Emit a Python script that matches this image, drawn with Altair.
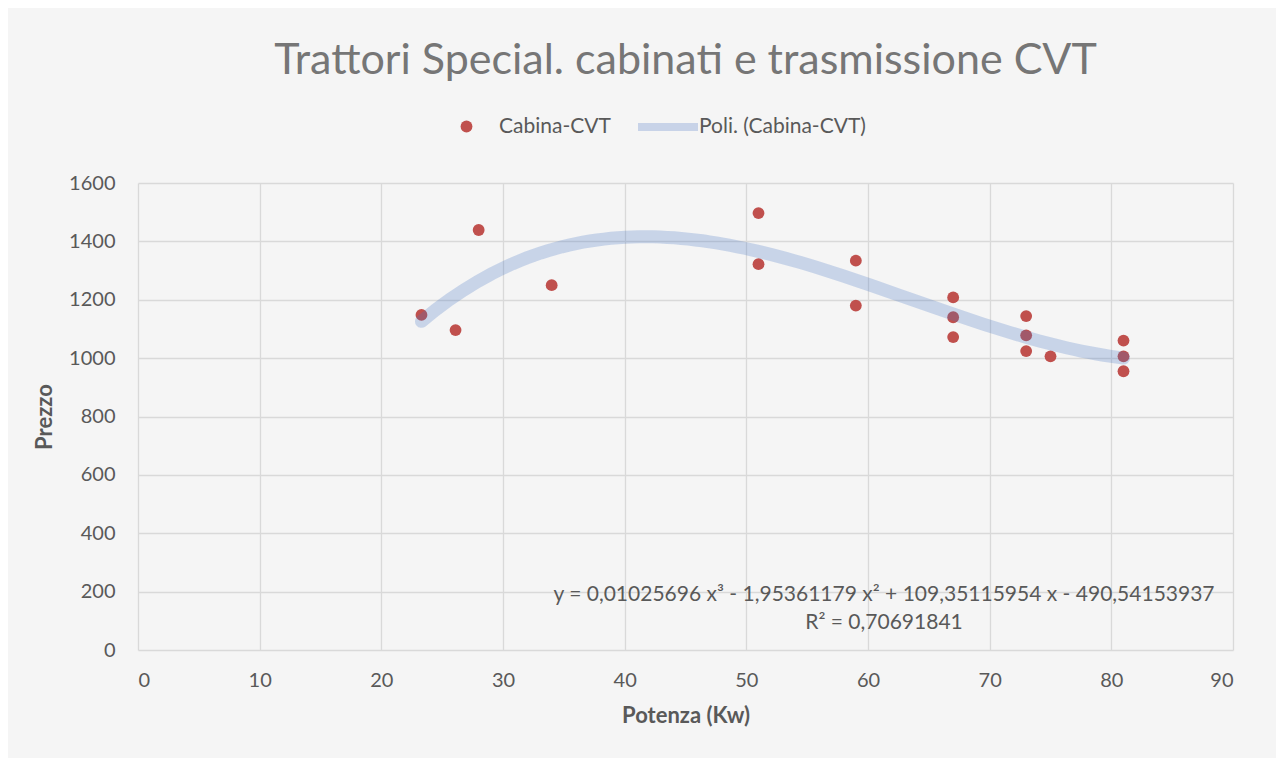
import altair as alt
import pandas as pd

# Data
potenza = [23.3, 26.1, 28.0, 34.0, 51.0, 51.0, 59.0, 59.0, 67.0, 67.0, 67.0,
           73.0, 73.0, 73.0, 75.0, 81.0, 81.0, 81.0]
prezzo = [1148, 1096, 1439, 1250, 1497, 1322, 1334, 1180, 1208, 1140, 1072,
          1144, 1078, 1024, 1006, 1060, 1006, 955]

series_points = "Cabina-CVT"
series_trend = "Poli. (Cabina-CVT)"
equation = "y = 0,01025696 x³ - 1,95361179 x² + 109,35115954 x - 490,54153937"
r_squared = "R² = 0,70691841"
title_text = "Trattori Special. cabinati e trasmissione CVT"

x_ticks = [0, 10, 20, 30, 40, 50, 60, 70, 80, 90]
y_ticks = [0, 200, 400, 600, 800, 1000, 1200, 1400, 1600]

df = pd.DataFrame({"x": potenza, "y": prezzo})

FONT = "Lato"
GRAY = "#595959"

x_enc = alt.X("x:Q", scale=alt.Scale(domain=[0, 90], nice=False),
              axis=alt.Axis(values=x_ticks, format="d", title="Potenza (Kw)",
                            titlePadding=15, labelPadding=20))
y_enc = alt.Y("y:Q", scale=alt.Scale(domain=[0, 1600], nice=False),
              axis=alt.Axis(values=y_ticks, format="d", title="Prezzo",
                            titlePadding=12, labelPadding=23))

points = alt.Chart(df).transform_calculate(
    series=f"'{series_points}'"
).mark_point(filled=True, size=140, opacity=1, shape="circle").encode(
    x=x_enc,
    y=y_enc,
    fill=alt.Fill("series:N", scale=alt.Scale(domain=[series_points], range=["#c0504d"]),
                  legend=alt.Legend(title=None, orient="none", legendX=318, legendY=-67,
                                    symbolType="circle", symbolSize=140, labelOffset=22,
                                    labelLimit=300, padding=0)),
)

trend = alt.Chart(df).transform_regression(
    "x", "y", method="poly", order=3
).transform_calculate(
    series=f"'{series_trend}'"
).mark_line(strokeWidth=13, opacity=0.25, strokeCap="round").encode(
    x="x:Q",
    y="y:Q",
    stroke=alt.Stroke("series:N", scale=alt.Scale(domain=[series_trend], range=["#4472c4"]),
                      legend=alt.Legend(title=None, orient="none", legendX=496, legendY=-90,
                                        symbolType="stroke", symbolSize=3600,
                                        symbolStrokeWidth=8, symbolOpacity=0.25,
                                        labelOffset=alt.ExprRef(expr="-3"),
                                        labelLimit=300, padding=0)),
)

eq_data = alt.Data(values=[{"a": 1}])
eq1 = alt.Chart(eq_data).mark_text(
    text=equation, font=FONT, fontSize=21, color=GRAY, align="center", baseline="middle"
).encode(x=alt.value(746), y=alt.value(412))
eq2 = alt.Chart(eq_data).mark_text(
    text=r_squared, font=FONT, fontSize=21, color=GRAY, align="center", baseline="middle"
).encode(x=alt.value(746), y=alt.value(440))

chart = alt.layer(points, trend, eq1, eq2).resolve_legend(fill="independent", stroke="independent").properties(
    width=1095,
    height=467,
    autosize=alt.AutoSizeParams(type="none"),
    padding={"left": 130, "top": 175, "right": 43, "bottom": 108},
    background="#f5f5f5",
    title=alt.TitleParams(title_text, font=FONT, fontSize=43, fontWeight="normal",
                          color="#767676", anchor="middle", offset=10),
).configure_view(stroke=None).configure_axis(
    labelFont=FONT, labelFontSize=20, labelColor=GRAY,
    titleFont=FONT, titleFontSize=22, titleFontWeight="bold", titleColor=GRAY,
    gridColor="#d9d9d9", gridWidth=1.3, domain=False, ticks=False,
).configure_legend(
    labelFont=FONT, labelFontSize=21, labelColor=GRAY
)

chart.save("out.html", embed_options={"renderer": "svg", "actions": False})
